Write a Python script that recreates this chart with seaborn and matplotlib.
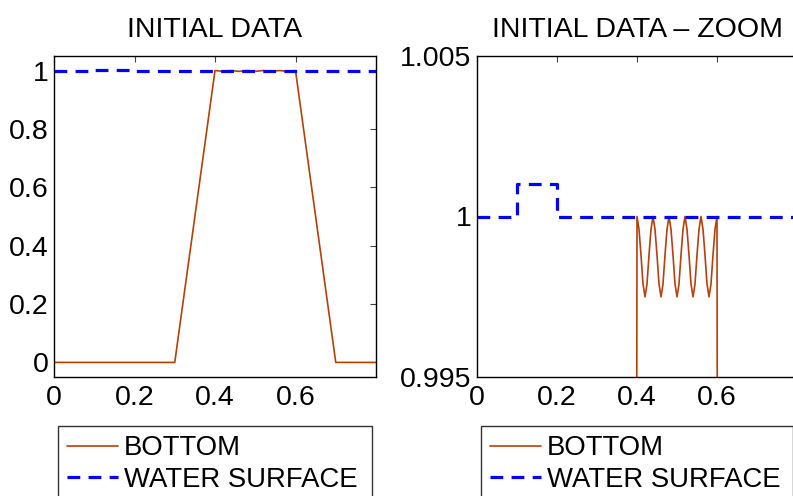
import numpy as np
import matplotlib
matplotlib.use("Agg")
import matplotlib.pyplot as plt
import seaborn as sns

# data
bottom_x = [0.0, 0.3] + list(np.linspace(0.4, 0.6, 41)) + [0.7, 0.8]
bottom_top = [1.0, 0.9996, 0.9988, 0.9979, 0.9975, 0.9979, 0.9988, 0.9996,
              1.0, 0.9996, 0.9988, 0.9979, 0.9975, 0.9979, 0.9988, 0.9996,
              1.0, 0.9996, 0.9988, 0.9979, 0.9975, 0.9979, 0.9988, 0.9996,
              1.0, 0.9996, 0.9988, 0.9979, 0.9975, 0.9979, 0.9988, 0.9996,
              1.0, 0.9996, 0.9988, 0.9979, 0.9975, 0.9979, 0.9988, 0.9996,
              1.0]
bottom_y = [0.0, 0.0] + bottom_top + [0.0, 0.0]

water_x = [0.0, 0.1, 0.1, 0.2, 0.2, 0.8]
water_y = [1.0, 1.0, 1.001, 1.001, 1.0, 1.0]

titles = ["INITIAL DATA", "INITIAL DATA – ZOOM"]
ylims = [(-0.05, 1.05), (0.995, 1.005)]
yticks = [[0, 0.2, 0.4, 0.6, 0.8, 1], [0.995, 1, 1.005]]
ytick_labels = [["0", "0.2", "0.4", "0.6", "0.8", "1"], ["0.995", "1", "1.005"]]
xticks = [0, 0.2, 0.4, 0.6]
xtick_labels = ["0", "0.2", "0.4", "0.6"]

sns.set_style("white")
plt.rcParams["font.family"] = ["Liberation Sans", "DejaVu Sans"]
plt.rcParams["font.size"] = 20.5
plt.rcParams["text.color"] = "black"
plt.rcParams["xtick.color"] = "black"
plt.rcParams["ytick.color"] = "black"

fig = plt.figure(figsize=(7.93, 4.96), dpi=100)
ax1 = fig.add_axes([54 / 793, 1 - 377 / 496, 322 / 793, 321 / 496])
ax2 = fig.add_axes([477 / 793, 1 - 377 / 496, 320 / 793, 321 / 496])

for i, ax in enumerate([ax1, ax2]):
    sns.lineplot(x=bottom_x, y=bottom_y, ax=ax, color="#b5400a", lw=1.2,
                 estimator=None, sort=False, label="BOTTOM")
    sns.lineplot(x=water_x, y=water_y, ax=ax, color="#0000ff", lw=2.3,
                 linestyle=(0, (4, 2.6)), estimator=None, sort=False,
                 label="WATER SURFACE")
    ax.set_xlim(0, 0.8)
    ax.set_ylim(*ylims[i])
    ax.set_xticks(xticks)
    ax.set_xticklabels(xtick_labels)
    ax.set_yticks(yticks[i])
    ax.set_yticklabels(ytick_labels[i])
    ax.tick_params(direction="in", length=4, width=0.8, color="#444444",
                   labelcolor="black", top=True, right=True, labelsize=20.5)
    ax.tick_params(axis="x", pad=6)
    ax.tick_params(axis="y", pad=4)
    for s in ax.spines.values():
        s.set_visible(True)
        s.set_color("black")
        s.set_linewidth(1.0)
    ax.set_title(titles[i], fontsize=20.5, pad=14, color="black")
    ax.set_xlabel("")
    ax.set_ylabel("")
    leg = ax.legend(loc="upper left", bbox_to_anchor=(0.012, -0.152, 0.976, 0),
                    mode="expand", frameon=True, fancybox=False, fontsize=19.8,
                    handlelength=1.85, handletextpad=0.2, borderpad=0.35,
                    labelspacing=0.2, borderaxespad=0)
    leg.get_frame().set_edgecolor("black")
    leg.get_frame().set_linewidth(1.0)
    for t in leg.get_texts():
        t.set_color("black")

fig.savefig("out.png", dpi=100)
